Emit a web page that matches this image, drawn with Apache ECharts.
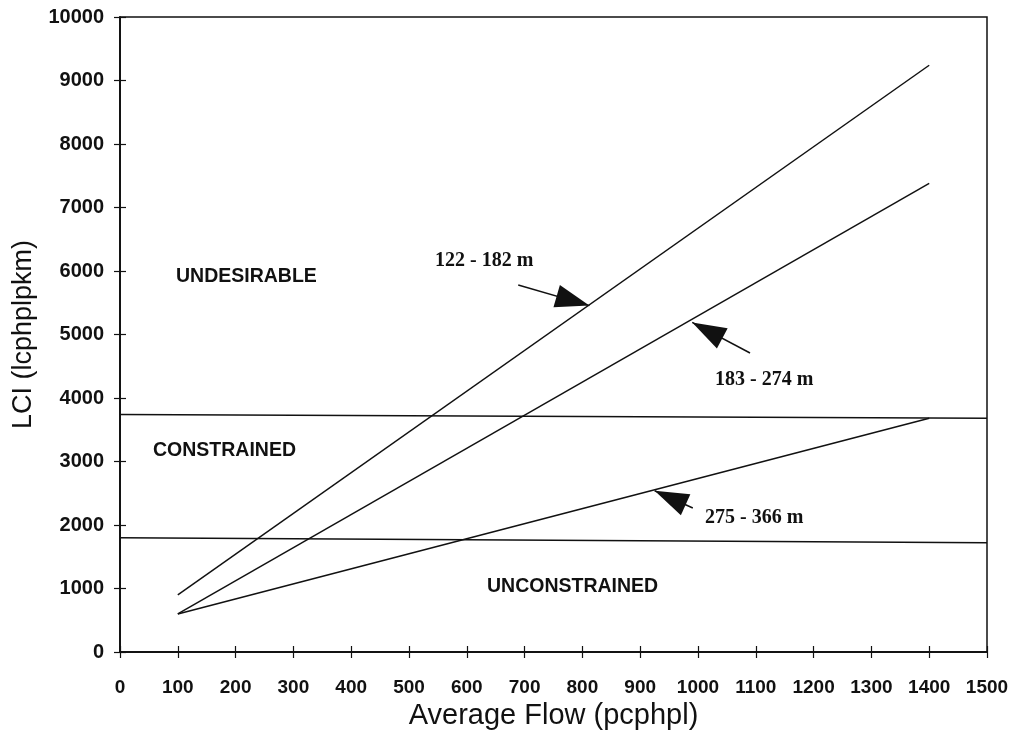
<!DOCTYPE html>
<html>
<head>
<meta charset="utf-8">
<script src="https://cdn.jsdelivr.net/npm/echarts@6/dist/echarts.min.js"></script>
<style>
html,body{margin:0;padding:0;background:#fff;}
#c{width:1012px;height:731px;}
</style>
</head>
<body>
<div id="c"></div>
<script>
// ---- data ----
const xTicks = [0,100,200,300,400,500,600,700,800,900,1000,1100,1200,1300,1400,1500];
const yTicks = [0,1000,2000,3000,4000,5000,6000,7000,8000,9000,10000];
const line122_182 = [[100, 900], [1400, 9240]];
const line183_274 = [[100, 600], [1400, 7380]];
const line275_366 = [[100, 600], [1400, 3680]];
const upperBoundary = [[0, 3740], [1500, 3680]];
const lowerBoundary = [[0, 1800], [1500, 1720]];
const arrow122 = [[689, 5780], [812, 5455]];
const arrow183 = [[1090, 4709], [990, 5190]];
const arrow275 = [[991, 2268], [925, 2540]];
const regionLabels = ['UNDESIRABLE', 'CONSTRAINED', 'UNCONSTRAINED'];
const rangeLabels = ['122 - 182 m', '183 - 274 m', '275 - 366 m'];

const chart = echarts.init(document.getElementById('c'));
const black = '#111';
const lineStyle = {color: black, width: 1.5};

function plain(name, data) {
  return {name, type: 'line', data, symbol: 'none', silent: true, lineStyle, z: 3};
}
function arrow(pts) {
  return {
    type: 'line', data: [], silent: true,
    markLine: {
      silent: true, animation: false,
      symbol: ['none', 'triangle'], symbolSize: [23, 34],
      symbolOffset: [0, [0, 17]],
      lineStyle: {color: black, width: 1.5, type: 'solid'},
      itemStyle: {color: black},
      label: {show: false},
      data: [[{coord: pts[0]}, {coord: pts[1]}]]
    }
  };
}

function labelStyle(size) {
  return {color: black, fontFamily: 'Liberation Sans', fontWeight: 'bold', fontSize: size,
    formatter: v => String(v)};
}

chart.setOption({
  animation: false,
  backgroundColor: '#fff',
  grid: {left: 120, right: 25, top: 17, bottom: 79, show: true, borderColor: black, borderWidth: 1.5,
    containLabel: false, outerBoundsMode: 'none'},
  xAxis: [{
    type: 'value', min: 0, max: 1500, interval: 100,
    axisLine: {show: true, onZero: false, lineStyle: {color: black, width: 1.5}},
    axisTick: {show: true, inside: false, length: 6, lineStyle: {color: black, width: 1.2}},
    axisLabel: Object.assign({margin: 26}, labelStyle(19)),
    splitLine: {show: false},
    name: 'Average Flow (pcphpl)', nameLocation: 'middle', nameGap: 44,
    nameTextStyle: {color: black, fontFamily: 'Liberation Sans', fontSize: 29}
  }, {
    type: 'value', min: 0, max: 1500, interval: 100, position: 'bottom', offset: 0,
    axisLine: {show: true, onZero: false, lineStyle: {color: black, width: 1.5}},
    axisTick: {show: true, inside: true, length: 6, lineStyle: {color: black, width: 1.2}},
    axisLabel: {show: false}, splitLine: {show: false}
  }],
  yAxis: [{
    type: 'value', min: 0, max: 10000, interval: 1000,
    axisLine: {show: true, onZero: false, lineStyle: {color: black, width: 1.5}},
    axisTick: {show: true, inside: false, length: 6, lineStyle: {color: black, width: 1.2}},
    axisLabel: Object.assign({margin: 16}, labelStyle(20)),
    splitLine: {show: false},
    name: 'LCI (lcphplpkm)', nameLocation: 'middle', nameGap: 75,
    nameTextStyle: {color: black, fontFamily: 'Liberation Sans', fontSize: 27}
  }, {
    type: 'value', min: 0, max: 10000, interval: 1000, position: 'left', offset: 0,
    axisLine: {show: true, onZero: false, lineStyle: {color: black, width: 1.5}},
    axisTick: {show: true, inside: true, length: 6, lineStyle: {color: black, width: 1.2}},
    axisLabel: {show: false}, splitLine: {show: false}
  }],
  series: [
    plain('122 - 182 m', line122_182),
    plain('183 - 274 m', line183_274),
    plain('275 - 366 m', line275_366),
    plain('upper', upperBoundary),
    plain('lower', lowerBoundary),
    arrow(arrow122), arrow(arrow183), arrow(arrow275)
  ],
  graphic: [
    {type: 'text', left: 176, top: 267, style: {text: regionLabels[0], font: 'bold 19.5px "Liberation Sans"', fill: black}},
    {type: 'text', left: 153, top: 441, style: {text: regionLabels[1], font: 'bold 19.5px "Liberation Sans"', fill: black}},
    {type: 'text', left: 487, top: 577, style: {text: regionLabels[2], font: 'bold 19.5px "Liberation Sans"', fill: black}},
    {type: 'text', left: 435, top: 251, style: {text: rangeLabels[0], font: 'bold 20px "Liberation Serif"', fill: black}},
    {type: 'text', left: 715, top: 370, style: {text: rangeLabels[1], font: 'bold 20px "Liberation Serif"', fill: black}},
    {type: 'text', left: 705, top: 508, style: {text: rangeLabels[2], font: 'bold 20px "Liberation Serif"', fill: black}}
  ]
});
</script>
</body>
</html>
